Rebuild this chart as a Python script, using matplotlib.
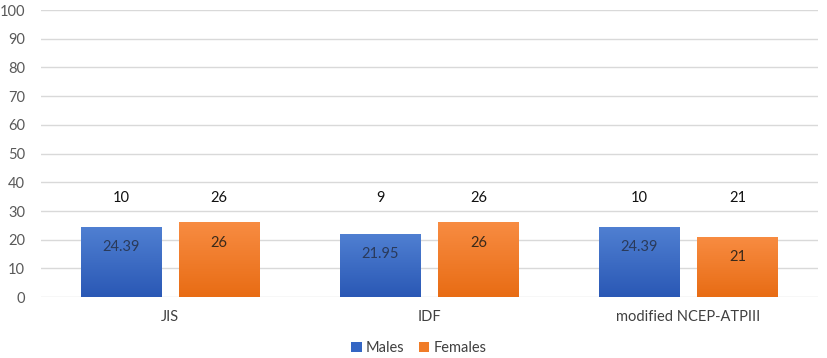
import matplotlib.pyplot as plt
import numpy as np
from matplotlib.colors import LinearSegmentedColormap

plt.rcParams['font.family'] = ['Lato', 'DejaVu Sans']

categories = ["JIS", "IDF", "modified NCEP-ATPIII"]
males_pct = [24.39, 21.95, 24.39]
females_pct = [26, 26, 21]
males_n = [10, 9, 10]
females_n = [26, 26, 21]
yticks = [0, 10, 20, 30, 40, 50, 60, 70, 80, 90, 100]

fig = plt.figure(figsize=(8.27, 3.58), dpi=100)
ax = fig.add_axes([0.049, 0.170, 0.940, 0.802])

x = np.arange(len(categories))
w = 0.31
off = 0.19

blue_cm = LinearSegmentedColormap.from_list("b", ["#2a58b5", "#5080d2"])
orange_cm = LinearSegmentedColormap.from_list("o", ["#e86c14", "#f88c42"])

def grad_bars(xs, vals, cmap, label, legend_color):
    bars = ax.bar(xs, vals, w, color=legend_color, label=label, zorder=2)
    for b in bars:
        x0, y0 = b.get_x(), b.get_y()
        x1, y1 = x0 + b.get_width(), y0 + b.get_height()
        grad = np.linspace(0, 1, 256).reshape(-1, 1)
        im = ax.imshow(grad, extent=[x0, x1, y0, y1], origin="lower",
                       aspect="auto", cmap=cmap, zorder=3)
        im.set_clip_path(b)
    return bars

grad_bars(x - off, males_pct, blue_cm, "Males", "#3466c4")
grad_bars(x + off, females_pct, orange_cm, "Females", "#f07c28")

for i in range(len(categories)):
    ax.text(x[i] - off, males_pct[i] - 7, f"{males_pct[i]:g}", ha="center", va="center",
            fontsize=10.5, color="#2a3a5a", zorder=4)
    ax.text(x[i] + off, females_pct[i] - 7, f"{females_pct[i]:g}", ha="center", va="center",
            fontsize=10.5, color="#3a2a1a", zorder=4)
    ax.text(x[i] - off, 34.5, str(males_n[i]), ha="center", va="center",
            fontsize=10.5, color="#111111", zorder=4)
    ax.text(x[i] + off, 34.5, str(females_n[i]), ha="center", va="center",
            fontsize=10.5, color="#111111", zorder=4)

ax.set_xlim(-0.5, 2.5)
ax.set_ylim(0, 100)
ax.set_yticks(yticks)
ax.set_xticks(x, categories)
ax.grid(axis="y", color="#d9d9d9", linewidth=1, zorder=0)
ax.set_axisbelow(True)
for s in ax.spines.values():
    s.set_visible(False)
ax.tick_params(axis="both", length=0, labelsize=10.5, colors="#595959")
ax.tick_params(axis="y", pad=11)
ax.tick_params(axis="x", pad=9)
for t in ax.get_xticklabels():
    t.set_color("#404040")

ax.legend(loc="upper center", bbox_to_anchor=(0.487, -0.123), ncol=2, frameon=False,
          fontsize=10.5, handlelength=0.7, handleheight=0.7, handletextpad=0.3,
          columnspacing=1.0, labelcolor="#404040", borderaxespad=0.2)

fig.savefig("out.png", dpi=100)
